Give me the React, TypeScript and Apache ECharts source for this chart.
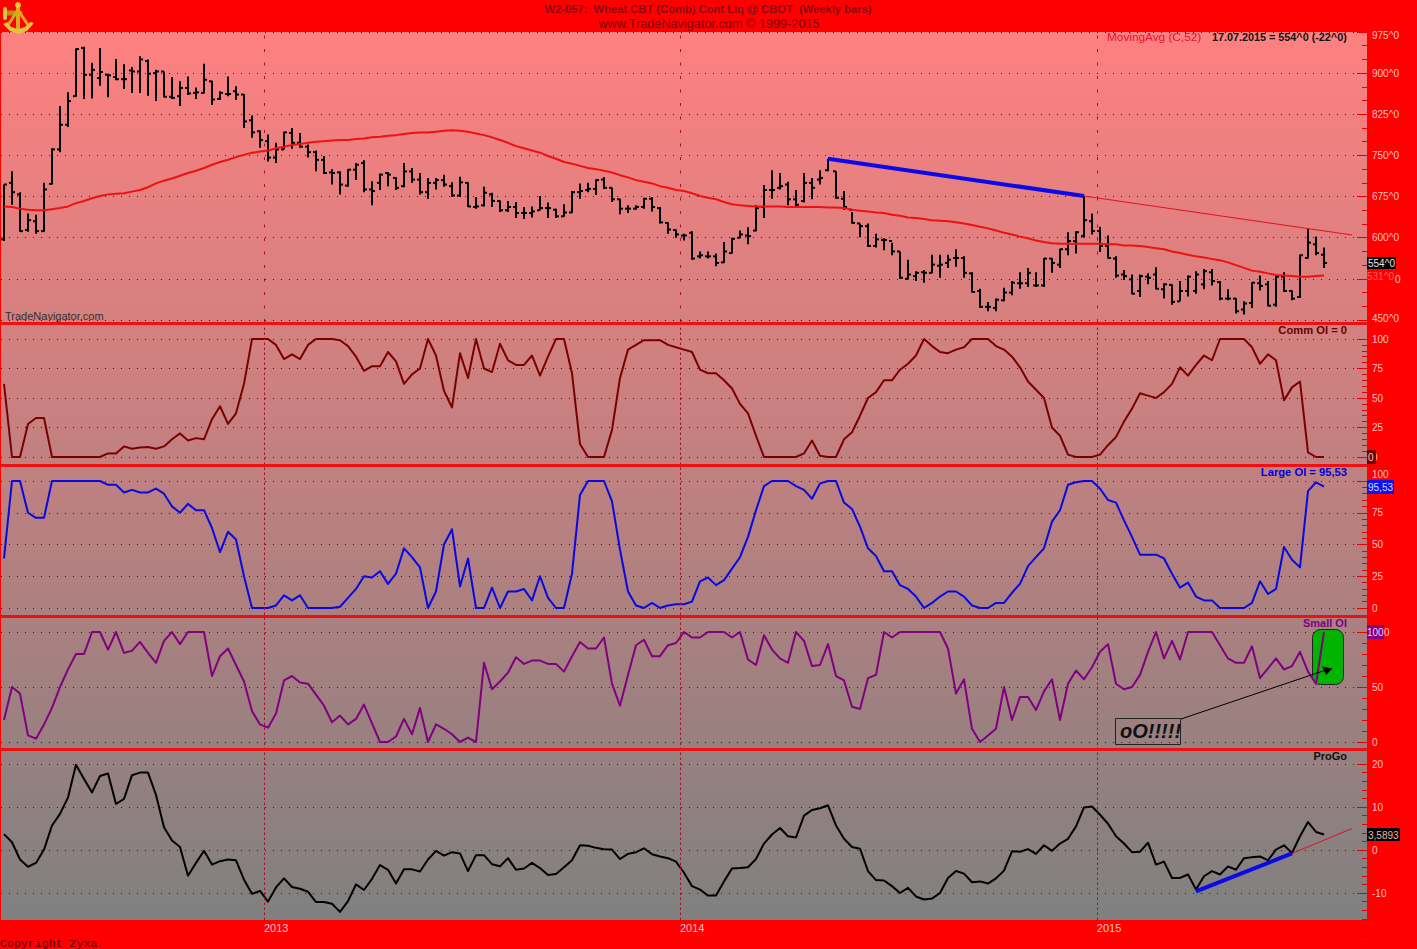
import React, { useEffect, useRef } from "react";
import * as echarts from "echarts";

const highs = [697,721,683,644,642,700,763,840,865,945,948,919,946,899,926,916,911,931,925,906,903,893,885,894,874,917,886,867,894,876,862,823,796,788,773,793,800,791,770,759,749,725,721,725,736,741,703,717,720,710,736,727,718,709,709,715,701,711,701,674,693,682,668,667,665,656,657,676,664,653,661,685,699,700,706,710,691,671,659,659,673,674,656,628,615,607,612,575,575,571,592,600,613,619,659,696,723,718,702,687,718,709,723,744,721,685,647,626,626,607,599,591,575,560,539,541,569,569,569,579,566,537,507,483,489,509,521,537,545,537,563,563,580,610,612,676,644,620,604,566,541,533,533,535,546,517,515,521,531,539,543,543,521,506,490,484,519,531,521,531,537,504,569,616,602,582];
const lows = [594,660,611,611,607,611,697,756,802,857,853,854,877,856,887,871,864,864,859,849,856,853,840,860,853,863,842,851,858,851,800,782,764,739,736,761,762,764,746,721,716,697,679,693,705,683,659,687,694,687,692,700,679,671,688,693,674,674,656,653,657,656,647,647,636,634,637,650,636,636,638,645,671,683,678,689,665,643,645,651,653,648,626,607,600,595,560,562,562,548,554,571,599,588,612,636,671,688,659,657,664,670,697,721,671,651,626,601,583,582,577,568,525,524,521,518,535,527,545,547,527,500,472,466,466,484,495,507,510,510,510,536,545,568,571,600,606,574,562,527,523,497,492,515,506,489,478,484,493,498,506,513,486,486,462,460,472,504,475,474,501,486,490,562,568,545];
const opens = [597,700,679,614,630,612,698,761,806,858,946,897,891,897,893,889,905,903,922,900,903,857,858,873,864,864,885,853,862,867,861,814,794,776,746,761,791,773,766,756,742,719,719,695,724,736,688,700,718,709,694,721,706,683,700,705,694,677,700,656,659,679,667,650,656,645,645,650,654,651,639,646,683,687,689,706,691,670,653,653,656,671,654,627,614,604,609,566,566,566,555,572,600,604,613,656,687,691,697,670,667,700,706,723,721,671,651,626,621,585,596,594,575,525,530,537,536,549,554,563,563,535,503,474,472,486,500,517,517,513,513,562,551,579,594,603,630,612,585,562,533,524,503,529,533,506,514,484,503,503,515,537,519,489,489,469,481,517,515,478,529,503,492,563,588,569];
const closes = [697,683,612,632,612,688,761,806,849,944,897,906,902,896,889,889,903,925,899,903,857,855,873,863,865,888,852,864,862,861,812,792,778,746,761,792,773,766,756,742,718,718,697,724,733,688,685,715,715,691,721,706,683,700,705,697,677,701,657,657,682,667,650,656,645,645,648,654,654,639,646,683,685,689,705,691,670,653,653,656,671,656,628,615,606,604,562,568,566,554,575,598,606,603,654,687,687,694,670,660,700,691,709,744,673,656,627,621,585,597,596,575,527,533,536,536,551,551,560,563,536,501,474,474,487,500,518,517,536,513,562,554,579,594,610,632,612,585,563,531,530,498,530,527,507,515,483,503,529,533,539,521,489,489,466,480,518,512,476,529,503,489,568,591,572,554];
const movingAvg = [657,656,653,651,650,650,652,654,657,663,667,672,676,679,680,681,684,687,692,699,704,708,713,718,722,727,733,738,742,747,751,755,757,759,763,766,769,771,773,775,776,777,778,778,780,781,783,784,786,787,789,791,792,792,793,795,796,795,793,790,787,783,778,773,767,763,759,755,749,744,738,735,731,727,725,722,719,714,710,705,702,699,694,691,687,685,681,676,673,670,665,661,659,658,657,657,657,657,656,656,656,656,656,655,655,654,651,649,648,646,645,642,640,637,636,634,632,631,630,628,626,623,620,617,613,609,606,602,599,595,592,590,589,589,589,589,589,589,588,588,586,586,585,583,581,579,575,572,569,566,564,561,559,555,550,545,540,538,535,532,531,530,529,529,530,531];
const commOI = [62,0,0,28,33,33,0,0,0,0,0,0,0,3,3,9,7,8,8.5,7,9,15,20,14,16,15,32,43,28,37,62,100,100,100,95,83,87,83,95,100,100,100,99,94,85,73,77,77,89,81,62,70,75,100,86,56,42,88,67,100,75,72,96,82,78,78,86,69,85,100,100,71,11,0,0,0,23,67,91,95,99,99,99,95,93,91,89,74,71,71,65,58,45,37,18,0,0,0,0,0,3,14,1,0,0,15,21,35,50,55,65,65,74,79,86,100,94,89,88,91,93,100,100,100,94,91,85,76,64,57,50,25,18,2,0,0,0,2,10,17,30,41,54,52,50,55,62,76,69,78,86,82,100,100,100,100,93,79,87,82,48,59,64,4,0,0];
const largeOI = [39,100,100,75,71,71,100,100,100,100,100,100,100,97,97,91,93,91,91,94,90,80,75,82,77,77,63,44,60,54,25,0,0,0,2,10,6,10,0,0,0,0,1,8,15,25,24,29,19,27,47,40,32,0,13,50,62,17,39,0,0,16,0,13,13,15,6,25,8,0,0,27,89,100,100,100,84,46,13,2,0,4,0,2,3,3,5,21,24,18,22,31,40,56,77,96,100,100,100,96,93,86,98,100,100,83,78,64,47,41,29,29,18,15,9,0,4,9,13,13,9,2,0,0,4,4,12,19,33,40,47,68,77,97,99,100,100,94,85,83,69,56,42,42,42,39,27,16,20,9,6,6,0,0,0,0,4,21,11,15,48,38,32,92,99,95.53];
const smallOI = [20,50,44,6,3,16,31,50,66,80,80,100,100,84,100,81,83,91,81,72,92,100,89,100,100,100,60,78,85,70,55,28,16,13,26,56,60,54,53,43,33,18,24,16,21,34,17,0,0,5,21,7,31,0,16,12,7,0,4,0,72,48,55,63,77,71,74,74,71,71,64,78,91,85,85,95,53,33,61,88,93,78,78,88,90,100,95,95,100,100,100,95,100,75,70,97,84,76,72,100,92,69,70,89,60,56,32,30,58,61,100,95,100,100,100,100,100,100,85,44,57,12,0,6,12,50,20,41,41,29,46,57,20,53,65,57,68,82,89,53,48,50,61,82,100,76,92,75,100,100,100,100,88,76,72,72,87,58,67,76,66,69,82,64,53,100];
const proGo = [3.7,1.8,-2.2,-3.9,-3,0.1,5.7,8.4,12.2,19.8,16.5,13.4,17.2,17.8,10.7,11.9,17.4,18,18,12.8,5.3,2.2,0.7,-6,-3,-0.2,-3.4,-2.6,-2.2,-2.4,-6.9,-10.2,-9.5,-12,-8.7,-6.6,-8.6,-9,-9.7,-12.1,-12.1,-12.5,-14.4,-11.9,-8,-9.3,-6.7,-3.5,-4.6,-7.8,-4.5,-4.5,-5,-2.2,-0.2,-1.3,-0.5,-0.8,-4.9,-1.2,-1.2,-3.3,-3.8,-1.9,-4.6,-4.3,-3,-4.2,-5.8,-5.6,-4,-2.4,1.1,1,0.5,0.2,0.1,-2.1,-0.9,-0.5,0.4,-1,-1.5,-1.9,-2.7,-5.3,-8.4,-9.2,-10.6,-10.6,-7.3,-4.3,-4.2,-4,-2.1,1.5,3.6,5.1,3.2,2.9,8,9.3,9.7,10.4,5.7,2.6,0.7,0.3,-4.9,-7,-7.1,-8.4,-10,-8.8,-10.8,-11.5,-11.3,-10,-6.5,-4.9,-5.5,-7.5,-7.3,-7.8,-6.6,-4.8,-0.3,-0.4,0.2,-0.9,1.1,-0.2,1.5,2.6,5.5,9.9,10.1,8.2,6.1,3.2,1.5,-0.5,-0.4,1.7,-3.4,-2.7,-6.5,-6.5,-5.7,-9.2,-6.1,-4.9,-5.7,-3.8,-4.6,-1.9,-1.7,-1.5,-2.4,0.1,1.1,-0.7,3.2,6.5,4.2,3.6];

const priceResistanceBlue = [[103, 744], [135, 676]];
const priceResistanceRed = [[135, 676], [168.5, 605]];
const progoSupportBlue = [[149, -9.6], [161, -0.8]];
const progoSupportRed = [[161, -0.8], [168.5, 5]];

const yearTicks = [32.5, 84.5, 136.6];
const yearLabels = ["2013", "2014", "2015"];

const PINK = "#FFC4C4";
const DIVIDER = "#EE1111";
const FONT = '"Liberation Sans", Arial, sans-serif';

const paneGrids = [
  { left: 1, width: 1366, top: 32, height: 288 },
  { left: 1, width: 1366, top: 339, height: 118 },
  { left: 1, width: 1366, top: 481, height: 127 },
  { left: 1, width: 1366, top: 632, height: 110 },
  { left: 1, width: 1366, top: 764, height: 172 },
  { left: 1, width: 1366, top: 32, height: 290 },
  { left: 1, width: 1366, top: 323, height: 597 },
];

const xAxisFor = (gridIndex: number, extra: any = {}) => ({
  type: "value",
  gridIndex,
  min: -0.375,
  max: 170.375,
  show: false,
  splitLine: { show: false },
  ...extra,
});

const yAxisFor = (gridIndex: number, min: number, max: number, interval: number, minors: number, label: any = {}) => ({
  type: "value",
  gridIndex,
  position: "right",
  min,
  max,
  interval,
  axisLine: { show: false, onZero: false },
  axisTick: { show: true, inside: true, length: 10, lineStyle: { color: "#E80000", width: 1 } },
  minorTick: { show: true, splitNumber: minors, length: 5, lineStyle: { color: "#E80000", width: 1 } },
  splitLine: { show: true, showMinLine: label.showMinLabel !== false || min === 450, lineStyle: { color: "#7A0000", type: [1, 7], width: 1 } },
  axisLabel: { color: PINK, fontFamily: FONT, fontSize: 10, margin: 5, ...label },
});

const lineSeries = (name: string, idx: number, data: any[], color: string, width: number, z = 3) => ({
  name,
  type: "line",
  xAxisIndex: idx,
  yAxisIndex: idx,
  data,
  symbol: "none",
  clip: false,
  z,
  lineStyle: { color, width, join: "round" },
  silent: true,
});

const indexed = (vals: number[]) => vals.map((v, i) => [i, v]);

const yearLineSeries = (idx: number, dash: number[]) => ({
  type: "line",
  xAxisIndex: idx,
  yAxisIndex: idx,
  data: [],
  symbol: "none",
  silent: true,
  z: 1,
  markLine: {
    silent: true,
    symbol: ["none", "none"],
    animation: false,
    label: { show: false },
    lineStyle: { color: "#A8102A", width: 1, type: dash },
    data: yearTicks.map((v) => ({ xAxis: v })),
  },
});

const renderBar = (params: any, api: any) => {
  const i = api.value(0);
  const hi = api.coord([i, api.value(1)]);
  const lo = api.coord([i, api.value(2)]);
  const op = api.coord([i, api.value(3)]);
  const cl = api.coord([i, api.value(4)]);
  const style = { stroke: "#000", lineWidth: 2, fill: null };
  return {
    type: "group",
    children: [
      { type: "line", shape: { x1: hi[0], y1: hi[1], x2: lo[0], y2: lo[1] }, style },
      { type: "line", shape: { x1: op[0] - 3, y1: op[1], x2: op[0], y2: op[1] }, style },
      { type: "line", shape: { x1: cl[0], y1: cl[1], x2: cl[0] + 3, y2: cl[1] }, style },
    ],
  };
};

const text = (t: string, x: number, y: number, font: string, fill: string, align = "left", z = 20) => ({
  type: "text",
  z,
  silent: true,
  style: { text: t, x, y, font, fill, textAlign: align, textVerticalAlign: "middle" },
});

const box = (x: number, y: number, width: number, height: number, fill: string, z = 15) => ({
  type: "rect",
  z,
  silent: true,
  shape: { x, y, width, height },
  style: { fill },
});

const GOLD = "#D9A81E";
const goldLine = (x1: number, y1: number, x2: number, y2: number, w: number, c = GOLD) => ({
  type: "line",
  z: 30,
  silent: true,
  shape: { x1, y1, x2, y2 },
  style: { stroke: c, lineWidth: w, lineCap: "round" },
});

const graphics: any[] = [
  {
    type: "rect",
    z: -10,
    silent: true,
    shape: { x: 1, y: 32, width: 1366, height: 888 },
    style: {
      fill: new echarts.graphic.LinearGradient(0, 0, 0, 1, [
        { offset: 0, color: "#FF8080" },
        { offset: 1, color: "#808080" },
      ]),
    },
  },
  box(1, 322, 1366, 3, DIVIDER),
  box(1, 464, 1366, 3, DIVIDER),
  box(1, 615, 1366, 3, DIVIDER),
  box(1, 748, 1366, 3, DIVIDER),

  // logo
  goldLine(6, 13, 20, 13, 5, "#B88C14"),
  goldLine(5, 9, 5, 18, 4, "#E8C040"),
  goldLine(18, 5, 18, 30, 4),
  goldLine(18, 10, 8, 25, 3),
  goldLine(18, 10, 28, 25, 3),
  { type: "polygon", z: 31, silent: true, shape: { points: [[3, 24], [10, 31], [18, 34], [27, 31], [34, 23], [30, 22], [25, 27], [18, 29], [11, 27], [7, 22]] }, style: { fill: "#E8C040" } },
  { type: "circle", z: 31, silent: true, shape: { cx: 18, cy: 5, r: 3 }, style: { fill: "#F0C830" } },

  // header
  text("W2-057:  Wheat CBT (Comb) Cont Liq @ CBOT  (Weekly bars)", 708, 9, `bold 11.2px ${FONT}`, "#8A0A14", "center"),
  text("www.TradeNavigator.com © 1999-2015", 709, 24, `12.7px ${FONT}`, "#7A0008", "center"),
  text("MovingAvg (C,52)", 1107, 37, `11.8px ${FONT}`, "#E8102A"),
  text("17.07.2015 = 554^0 (-22^0)", 1212, 37, `bold 10.8px ${FONT}`, "#101010"),
  text("TradeNavigator.com", 5, 316, `11px ${FONT}`, "#303030"),
  text("Copyright Zyxa", 0, 943, `11.6px "Liberation Mono", monospace`, "#500008"),

  // panel titles
  text("Comm OI = 0", 1347, 330, `bold 11.2px ${FONT}`, "#6A0000", "right"),
  text("Large OI = 95,53", 1347, 472, `bold 11.2px ${FONT}`, "#0000E0", "right"),
  text("Small OI", 1347, 623, `bold 11px ${FONT}`, "#800080", "right"),
  text("ProGo", 1347, 756, `bold 11px ${FONT}`, "#101010", "right"),

  // tick labels placed off their ticks or showing beside a flag
  text("975^0", 1372, 35, `10px ${FONT}`, PINK),
  text("450^0", 1372, 318, `10px ${FONT}`, PINK),
  text("0", 1395, 279, `10px ${FONT}`, PINK),
  text("100", 1372, 474, `10px ${FONT}`, PINK),
  text("0", 1384, 632, `10px ${FONT}`, PINK),

  // last-value flags
  text("531^0", 1367, 276, `10px ${FONT}`, "#FF6060"),
  box(1367, 257, 29, 12, "#000000", 16),
  text("554^0", 1368, 263, `10px ${FONT}`, "#F0E0E0"),
  box(1367, 450, 9, 14, "#700000", 16),
  text("0", 1368, 457, `10px ${FONT}`, PINK),
  box(1367, 480, 27, 14, "#1010F0", 16),
  text("95,53", 1368, 487, `10px ${FONT}`, "#D8D8FF"),
  box(1367, 625, 17, 14, "#800080", 16),
  text("100", 1367, 632, `10px ${FONT}`, "#F0D0F0"),
  box(1367, 828, 33, 13, "#000000", 16),
  text("3,5893", 1368, 835, `10px ${FONT}`, "#E8B8A0"),

  // annotation
  { type: "rect", z: 2, silent: true, shape: { x: 1312.5, y: 629.5, width: 31, height: 55, r: 8 }, style: { fill: "#00B400", stroke: "#222", lineWidth: 1 } },
  { type: "line", z: 22, silent: true, shape: { x1: 1181, y1: 719, x2: 1326, y2: 670 }, style: { stroke: "#000", lineWidth: 1 } },
  { type: "polygon", z: 23, silent: true, shape: { points: [[1322, 666.5], [1332.5, 668.5], [1326, 675]] }, style: { fill: "#000" } },
  { type: "rect", z: 22, silent: true, shape: { x: 1115.5, y: 718.5, width: 65, height: 26 }, style: { fill: "transparent", stroke: "#222", lineWidth: 1 } },
  text("oO!!!!!", 1120, 731, `italic bold 20px ${FONT}`, "#101010"),
];

const option: any = {
  animation: false,
  backgroundColor: "#FF0000",
  textStyle: { fontFamily: FONT },
  grid: paneGrids.map((g) => ({ ...g, containLabel: false, show: false })),
  xAxis: [
    xAxisFor(0),
    xAxisFor(1),
    xAxisFor(2),
    xAxisFor(3),
    xAxisFor(4),
    xAxisFor(5),
    xAxisFor(6, {
      show: true,
      axisLine: { show: false },
      axisTick: { show: false },
      axisLabel: {
        show: true,
        customValues: yearTicks,
        formatter: (v: number) => yearLabels[yearTicks.indexOf(v)] ?? "",
        color: PINK,
        fontFamily: FONT,
        fontSize: 11,
        align: "left",
        margin: 2,
      },
    }),
  ],
  yAxis: [
    yAxisFor(0, 450, 975, 75, 3, { showMinLabel: false, showMaxLabel: false, formatter: (v: number) => (v === 525 ? "" : `${v}^0`) }),
    yAxisFor(1, 0, 100, 25, 5),
    yAxisFor(2, 0, 100, 25, 5, { showMaxLabel: false }),
    yAxisFor(3, 0, 100, 50, 5, { showMaxLabel: false }),
    yAxisFor(4, -20, 20, 10, 5, { showMinLabel: false }),
    { type: "value", gridIndex: 5, min: 0, max: 1, show: false, splitLine: { show: false } },
    { type: "value", gridIndex: 6, min: 0, max: 1, show: false, splitLine: { show: false } },
  ],
  graphic: graphics,
  series: [
    yearLineSeries(5, [3, 10.5]),
    yearLineSeries(6, [2.5, 2.5]),
    {
      name: "Wheat CBT",
      type: "custom",
      xAxisIndex: 0,
      yAxisIndex: 0,
      z: 4,
      silent: true,
      clip: false,
      encode: { x: 0, y: [1, 2, 3, 4] },
      renderItem: renderBar,
      data: highs.map((h, i) => [i, h, lows[i], opens[i], closes[i]]),
    },
    lineSeries("MovingAvg (C,52)", 0, indexed(movingAvg), "#EE1111", 2, 5),
    lineSeries("Resistance", 0, priceResistanceBlue, "#0A0AE8", 4, 6),
    lineSeries("Resistance extension", 0, priceResistanceRed, "#E01020", 1, 6),
    lineSeries("Comm OI", 1, indexed(commOI), "#7A0000", 2),
    lineSeries("Large OI", 2, indexed(largeOI), "#0808E0", 2),
    lineSeries("Small OI", 3, indexed(smallOI), "#800080", 2),
    lineSeries("ProGo", 4, indexed(proGo), "#000000", 2),
    lineSeries("Support", 4, progoSupportBlue, "#0A0AE8", 4, 6),
    lineSeries("Support extension", 4, progoSupportRed, "#E01020", 1, 6),
  ],
};

export default function App() {
  const ref = useRef<HTMLDivElement>(null);
  useEffect(() => {
    document.body.style.margin = "0";
    const chart = echarts.init(ref.current!, undefined, { renderer: "svg", width: 1417, height: 949 });
    chart.setOption(option);
    return () => chart.dispose();
  }, []);
  return <div ref={ref} style={{ width: 1417, height: 949 }} />;
}
